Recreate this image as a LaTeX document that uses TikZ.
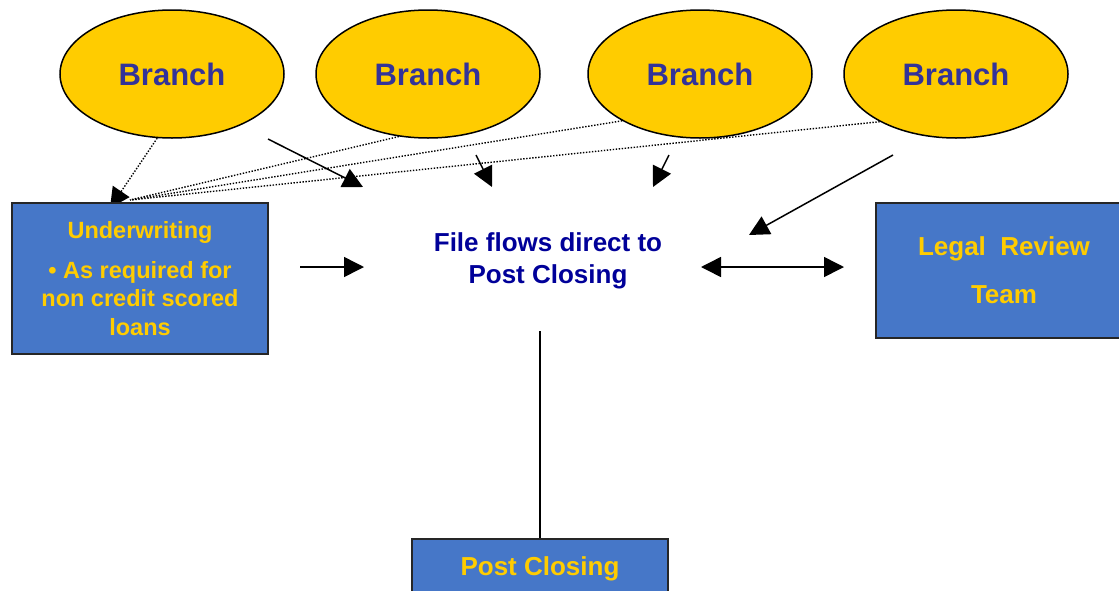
\documentclass[tikz,border=0pt]{standalone}
\usepackage{fontspec}
\setmainfont{Liberation Sans}
\usetikzlibrary{shapes.geometric,arrows.meta}
\definecolor{branchfill}{HTML}{FFCC00}
\definecolor{branchtext}{HTML}{333399}
\definecolor{boxfill}{HTML}{4677C8}
\definecolor{boxtext}{HTML}{FFCC00}
\definecolor{flowtext}{HTML}{000099}
\tikzset{
  branch/.style={ellipse, draw=black, line width=1.5pt, fill=branchfill,
    minimum width=224pt, minimum height=128pt, inner sep=0pt,
    text=branchtext, font=\fontsize{31}{37}\selectfont\bfseries},
  unit/.style={rectangle, draw=black!85, line width=2pt, fill=boxfill,
    minimum width=256pt, inner sep=0pt, text=boxtext, align=center},
  flow/.style={line width=1.5pt, -{Triangle[length=20pt,width=20pt]}},
  twoway/.style={line width=1.5pt, {Triangle[length=20pt,width=20pt]}-{Triangle[length=20pt,width=20pt]}},
  feed/.style={line width=1.4pt, dash pattern=on 1.4pt off 1.6pt},
  feedtip/.style={feed, -{Triangle[length=20pt,width=20pt]}},
}
\begin{document}
\begin{tikzpicture}[x=1pt,y=-1pt]
\useasboundingbox (0,0) rectangle (1119,590);

% branch offices
\node[branch] (b1) at (172,74) {Branch};
\node[branch] (b2) at (428,74) {Branch};
\node[branch] (b3) at (700,74) {Branch};
\node[branch] (b4) at (956,74) {Branch};

% free ends of the connectors
\coordinate (hub) at (130,200);
\coordinate (uwtip) at (110,208);
\coordinate (s1) at (268,139);
\coordinate (t1) at (363,187);
\coordinate (s2) at (476,155);
\coordinate (t2) at (492,187);
\coordinate (s3) at (669,155);
\coordinate (t3) at (653,187);
\coordinate (s4) at (893,155);
\coordinate (t4) at (749,235);
\coordinate (s5) at (300,267);
\coordinate (t5) at (364,267);
\coordinate (l6) at (701,267);
\coordinate (r6) at (844,267);
\coordinate (pc) at (540,331);

% dotted feeds into underwriting
\draw[feedtip] (b1.-103) -- (uwtip);
\draw[feed] (b2.-115) -- (hub);
\draw[feed] (b3.-149) -- (hub);
\draw[feed] (b4.-148) -- (hub);

% solid flows towards post closing
\draw[flow] (s1) -- (t1);
\draw[flow] (s2) -- (t2);
\draw[flow] (s3) -- (t3);
\draw[flow] (s4) -- (t4);
\draw[flow] (s5) -- (t5);
\draw[twoway] (l6) -- (r6);

% units
\node[unit, minimum height=151pt, font=\fontsize{23.5}{28.5}\selectfont\bfseries]
  (uw) at (140,278.5) {Underwriting\\[11pt]\textbullet\ As required for\\non credit scored\\loans};
\node[unit, minimum height=135pt, font=\fontsize{26}{48}\selectfont\bfseries]
  (legal) at (1004,270.5) {Legal\ \ Review\\Team};
\node[unit, minimum height=60pt, font=\fontsize{26}{31}\selectfont\bfseries]
  (post) at (540,569) {Post Closing};

% centre statement
\node[text=flowtext, align=center, font=\fontsize{26}{32}\selectfont\bfseries]
  (ctr) at (548,261) {File flows direct to\\Post Closing};

\draw[line width=1.5pt] (pc) -- (post.north);
\end{tikzpicture}
\end{document}
